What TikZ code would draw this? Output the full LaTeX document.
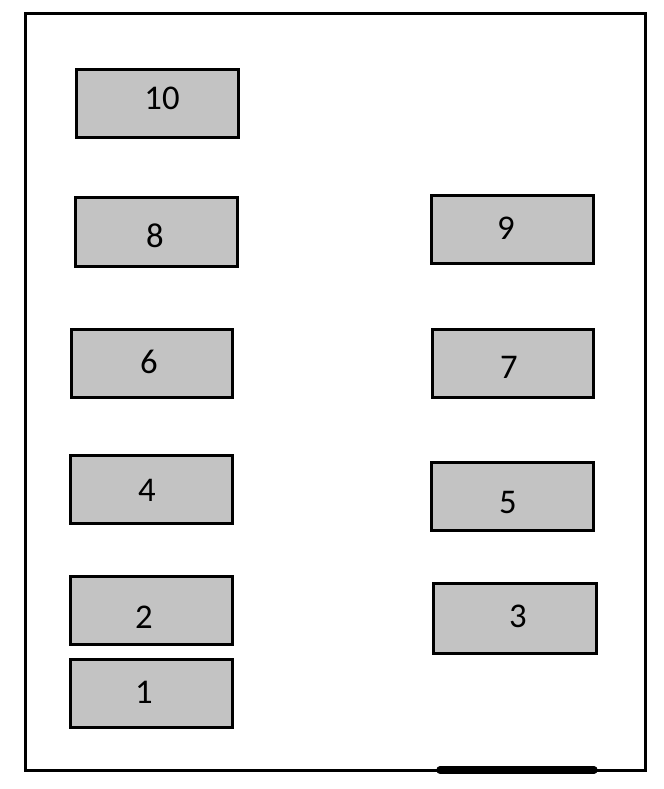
\documentclass[tikz,border=0pt]{standalone}
\usepackage{fontspec}
\setmainfont{Carlito}
\definecolor{boxgray}{RGB}{195,195,195}
\tikzset{
  stand/.style={draw=black,line width=2.25pt,fill=boxgray},
  num/.style={font=\fontsize{26}{30}\selectfont,inner sep=0pt}
}
\begin{document}
\begin{tikzpicture}[x=0.75pt,y=-0.75pt]
\useasboundingbox (0,0) rectangle (664,789);
%.............................
\draw[line width=2.25pt](25,13) rectangle (645,770);
\draw[line width=5.5pt,line cap=round](440,770)--(594,770);
%.............................
\draw[stand](76,69) rectangle (238,137);
\node[num] (n10) at (162,98) {10};
\draw[stand](75,197) rectangle (237,266);
\node[num] (n8) at (155,236) {8};
\draw[stand](431,195) rectangle (593,263);
\node[num] (n9) at (506,228) {9};
%.............................
\draw[stand](71,329) rectangle (232,397);
\node[num] (n6) at (149,362) {6};
\draw[stand](432,329) rectangle (593,397);
\node[num] (n7) at (509,367) {7};
%.............................
\draw[stand](70,455) rectangle (232,523);
\node[num] (n4) at (147,490) {4};
\draw[stand](431,462) rectangle (593,530);
\node[num] (n5) at (508,502) {5};
%.............................
\draw[stand](70,576) rectangle (232,644);
\node[num] (n2) at (144,617) {2};
\draw[stand](433,583) rectangle (596,653);
\node[num] (n3) at (518,616) {3};
\draw[stand](70,659) rectangle (232,727);
\node[num] (n1) at (144,692) {1};
\end{tikzpicture}
\end{document}
